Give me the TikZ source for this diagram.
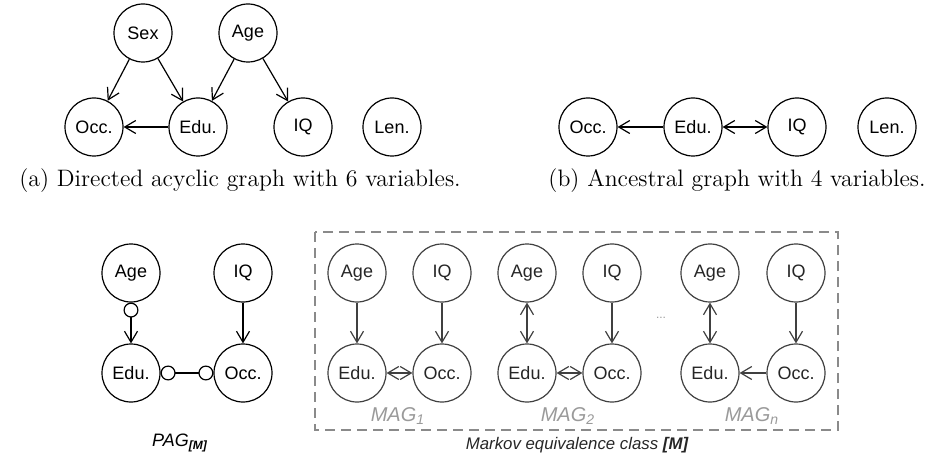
\documentclass[tikz,border=0pt]{standalone}
\usepackage{fontspec}
\newfontfamily\arialfont{Liberation Sans}
\usetikzlibrary{arrows.meta}
\definecolor{magline}{HTML}{404040}
\definecolor{boxgray}{HTML}{8A8A8A}
\definecolor{labgray}{HTML}{9A9A9A}
\tikzset{
  tip/.tip={Straight Barb[length=5.5pt,width=6.5pt]},
  ctip/.tip={Circle[open,length=7.5pt,width=7.5pt]},
  var/.style={circle, draw, line width=0.6pt, minimum size=29pt, inner sep=0pt, font=\arialfont\fontsize{9}{10}\selectfont},
  magvar/.style={var, draw=magline, text=black!85},
  edge/.style={line width=0.6pt, -tip},
  bidir/.style={line width=0.6pt, tip-tip},
  magedge/.style={edge, draw=magline},
  magbidir/.style={bidir, draw=magline},
  circarrow/.style={line width=0.6pt, ctip-tip},
  circcirc/.style={line width=0.6pt, ctip-ctip},
  caption/.style={font=\fontsize{11.9}{14}\selectfont},
  maglabel/.style={font=\arialfont\itshape\fontsize{10}{12}\selectfont, text=labgray},
  classlabel/.style={font=\arialfont\itshape\fontsize{8.4}{10}\selectfont, text=black!85}
}
\begin{document}
\begin{tikzpicture}[x=0.5pt,y=-0.5pt]
\useasboundingbox (0,0) rectangle (938,460);
% (a)
\node[var] (aSex) at (143,33) {Sex};
\node[var] (aAge) at (248,33) {Age};
\node[var] (aOcc) at (94,127) {Occ.};
\node[var] (aEdu) at (198,127) {Edu.};
\node[var] (aIQ) at (303,127) {IQ};
\node[var] (aLen) at (392,127) {Len.};
\draw[edge] (aSex) -- (aOcc);
\draw[edge] (aSex) -- (aEdu);
\draw[edge] (aAge) -- (aEdu);
\draw[edge] (aAge) -- (aIQ);
\draw[edge] (aEdu) -- (aOcc);
\node[caption] (capa) at (240,181) {(a) Directed acyclic graph with 6 variables.};
% (b)
\node[var] (bOcc) at (588,127) {Occ.};
\node[var] (bEdu) at (693,127) {Edu.};
\node[var] (bIQ) at (797,127) {IQ};
\node[var] (bLen) at (887,127) {Len.};
\draw[edge] (bEdu) -- (bOcc);
\draw[bidir] (bEdu) -- (bIQ);
\node[caption] (capb) at (737,181) {(b) Ancestral graph with 4 variables.};
% PAG
\node[var] (pAge) at (131,273) {Age};
\node[var] (pIQ) at (243,273) {IQ};
\node[var] (pEdu) at (131,373) {Edu.};
\node[var] (pOcc) at (243,373) {Occ.};
\draw[circarrow] (pAge) -- (pEdu);
\draw[edge] (pIQ) -- (pOcc);
\draw[circcirc] (pEdu) -- (pOcc);
\node[font=\arialfont\itshape\fontsize{9}{10}\selectfont] (plab) at (180,443) {PAG\textsubscript{\textbf{[M]}}};
% box
\draw[boxgray, line width=0.6pt, dash pattern=on 5pt off 3pt] (315,232) rectangle (838,430);
% MAG1
\node[magvar] (m1Age) at (357,273) {Age};
\node[magvar] (m1IQ) at (442,273) {IQ};
\node[magvar] (m1Edu) at (357,373) {Edu.};
\node[magvar] (m1Occ) at (442,373) {Occ.};
\draw[magedge] (m1Age) -- (m1Edu);
\draw[magedge] (m1IQ) -- (m1Occ);
\draw[magbidir] (m1Edu) -- (m1Occ);
\node[maglabel] (m1lab) at (398,416) {MAG\textsubscript{1}};
% MAG2
\node[magvar] (m2Age) at (527,273) {Age};
\node[magvar] (m2IQ) at (612,273) {IQ};
\node[magvar] (m2Edu) at (527,373) {Edu.};
\node[magvar] (m2Occ) at (612,373) {Occ.};
\draw[magbidir] (m2Age) -- (m2Edu);
\draw[magedge] (m2IQ) -- (m2Occ);
\draw[magbidir] (m2Edu) -- (m2Occ);
\node[maglabel] (m2lab) at (568,416) {MAG\textsubscript{2}};
% MAGn
\node[magvar] (mnAge) at (710,273) {Age};
\node[magvar] (mnIQ) at (796,273) {IQ};
\node[magvar] (mnEdu) at (710,373) {Edu.};
\node[magvar] (mnOcc) at (796,373) {Occ.};
\draw[magbidir] (mnAge) -- (mnEdu);
\draw[magedge] (mnIQ) -- (mnOcc);
\draw[magedge] (mnOcc) -- (mnEdu);
\node[maglabel] (mnlab) at (752,416) {MAG\textsubscript{n}};
\node[font=\arialfont\fontsize{6}{7}\selectfont, text=labgray] (dots) at (661,318) {...};
\node[classlabel] (clab) at (577,445) {Markov equivalence class \textbf{[M]}};
\end{tikzpicture}
\end{document}
